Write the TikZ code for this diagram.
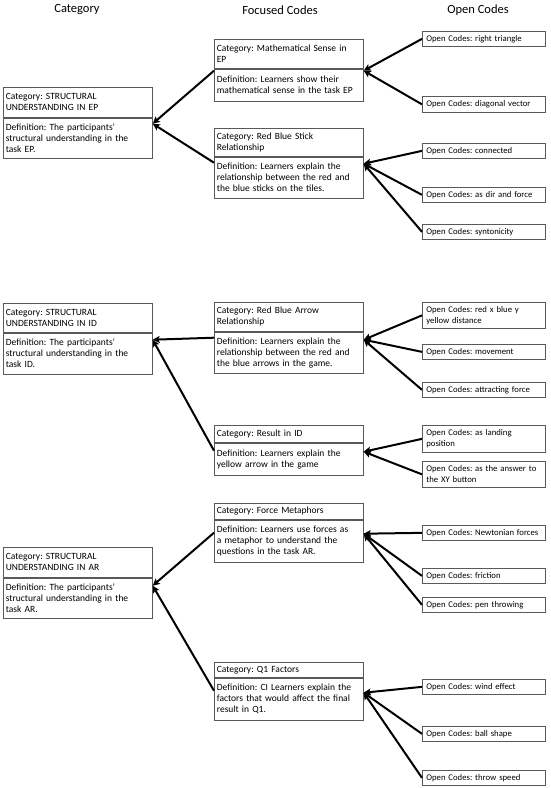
\documentclass[tikz,border=0pt]{standalone}
\usepackage{fontspec}
\setmainfont{Carlito}
\usetikzlibrary{arrows.meta,calc}
\frenchspacing

\tikzset{every picture/.style={line width=0.75pt}}
\tikzset{
  catbox/.style={draw=black!65, line width=0.7pt, anchor=north west, align=left,
    inner xsep=2.5pt, inner ysep=1pt, text width=144pt, font=\fontsize{9.5}{11}\selectfont},
  codebox/.style={draw=black!65, line width=0.7pt, anchor=north west, align=left,
    inner xsep=4pt, inner ysep=1pt, text width=115pt, font=\fontsize{8.7}{11}\selectfont},
  colhead/.style={font=\fontsize{12.5}{14}\selectfont},
  link/.style={line width=2pt, -{Stealth[length=7pt,width=7pt,inset=1.5pt]}}
}

\begin{document}
\begin{tikzpicture}[x=1pt,y=1pt,yscale=-1,xscale=1]
\useasboundingbox (0,0) rectangle (550,788);

% Column heads
\node[colhead] (headCat) at (77,10) {Category};
\node[colhead] (headFocus) at (280,10) {Focused Codes};
\node[colhead] (headOpen) at (478,10) {Open Codes};

%Category boxes
\node[catbox, minimum height=30] (epHead) at (3,87) {Category: STRUCTURAL\\UNDERSTANDING IN EP};
\node[catbox, minimum height=40] (epDef) at (epHead.south west) {Definition: The participants'\\structural understanding in the\\task EP.};
\node[catbox, minimum height=29] (idHead) at (3,303) {Category: STRUCTURAL\\UNDERSTANDING IN ID};
\node[catbox, minimum height=41] (idDef) at (idHead.south west) {Definition: The participants'\\structural understanding in the\\task ID.};
\node[catbox, minimum height=30] (arHead) at (3,547) {Category: STRUCTURAL\\UNDERSTANDING IN AR};
\node[catbox, minimum height=40] (arDef) at (arHead.south west) {Definition: The participants'\\structural understanding in the\\task AR.};

%Focused code boxes
\node[catbox, minimum height=29] (mathHead) at (214,39) {Category: Mathematical Sense in\\EP};
\node[catbox, minimum height=32] (mathDef) at (mathHead.south west) {Definition: Learners show their\\mathematical sense in the task EP};
\node[catbox, minimum height=28] (stickHead) at (214,128) {Category: Red Blue Stick\\Relationship};
\node[catbox, minimum height=41] (stickDef) at (stickHead.south west) {Definition: Learners explain the\\relationship between the red and\\the blue sticks on the tiles.};
\node[catbox, minimum height=29] (arrowHead) at (214,302) {Category: Red Blue Arrow\\Relationship};
\node[catbox, minimum height=41] (arrowDef) at (arrowHead.south west) {Definition: Learners explain the\\relationship between the red and\\the blue arrows in the game.};
\node[catbox, minimum height=17] (resultHead) at (214,425) {Category: Result in ID};
\node[catbox, minimum height=32] (resultDef) at (resultHead.south west) {Definition: Learners explain the\\yellow arrow in the game};
\node[catbox, minimum height=16] (forceHead) at (214,503) {Category: Force Metaphors};
\node[catbox, minimum height=42] (forceDef) at (forceHead.south west) {Definition: Learners use forces as\\a metaphor to understand the\\questions in the task AR.};
\node[catbox, minimum height=15] (qoneHead) at (214,662) {Category: Q1 Factors};
\node[catbox, minimum height=42] (qoneDef) at (qoneHead.south west) {Definition: CI Learners explain the\\factors that would affect the final\\result in Q1.};

%Open code boxes
\node[codebox, minimum height=15] (rightTri) at (422,31) {Open Codes: right triangle};
\node[codebox, minimum height=16] (diagVec) at (422,96) {Open Codes: diagonal vector};
\node[codebox, minimum height=15] (connected) at (422,143) {Open Codes: connected};
\node[codebox, minimum height=15] (dirForce) at (422,187) {Open Codes: as dir and force};
\node[codebox, minimum height=15] (synton) at (422,224) {Open Codes: syntonicity};
\node[codebox, minimum height=26] (redBlue) at (422,302) {Open Codes: red x blue y\\yellow distance};
\node[codebox, minimum height=15] (movement) at (422,344) {Open Codes: movement};
\node[codebox, minimum height=15] (attract) at (422,382) {Open Codes: attracting force};
\node[codebox, minimum height=27] (landing) at (422,425) {Open Codes: as landing\\position};
\node[codebox, minimum height=26] (xyButton) at (422,461) {Open Codes: as the answer to\\the XY button};
\node[codebox, minimum height=15] (newton) at (422,525) {Open Codes: Newtonian forces};
\node[codebox, minimum height=15] (friction) at (422,568) {Open Codes: friction};
\node[codebox, minimum height=15] (penThrow) at (422,597) {Open Codes: pen throwing};
\node[codebox, minimum height=15] (wind) at (422,679) {Open Codes: wind effect};
\node[codebox, minimum height=15] (ballShape) at (422,726) {Open Codes: ball shape};
\node[codebox, minimum height=15] (throwSpeed) at (422,770) {Open Codes: throw speed};

%Hub points
\coordinate (epIn) at ($(epDef.north east)+(0,6)$);
\coordinate (idIn) at ($(idDef.north east)+(0,7)$);
\coordinate (arIn) at ($(arDef.north east)+(0,8)$);
\coordinate (mathL) at ($(mathDef.north west)+(0,2)$);
\coordinate (mathR) at ($(mathDef.north east)+(0,2)$);
\coordinate (stickL) at ($(stickDef.north west)+(0,6)$);
\coordinate (stickR) at ($(stickDef.north east)+(0,7)$);
\coordinate (arrowL) at ($(arrowDef.north west)+(0,6)$);
\coordinate (arrowR) at ($(arrowDef.north east)+(0,8)$);
\coordinate (resultL) at ($(resultDef.north west)+(0,8)$);
\coordinate (resultR) at ($(resultDef.north east)+(0,9)$);
\coordinate (forceL) at ($(forceDef.north west)+(0,13)$);
\coordinate (forceR) at ($(forceDef.north east)+(0,14)$);
\coordinate (qoneL) at ($(qoneDef.north west)+(0,13)$);
\coordinate (qoneR) at ($(qoneDef.north east)+(0,15)$);

%Focused to category
\draw[link] (mathL) -- (epIn);
\draw[link] (stickL) -- (epIn);
\draw[link] (arrowL) -- (idIn);
\draw[link] (resultL) -- (idIn);
\draw[link] (forceL) -- (arIn);
\draw[link] (qoneL) -- (arIn);

%Open to focused
\draw[link] (rightTri.west) -- (mathR);
\draw[link] (diagVec.west) -- (mathR);
\draw[link] (connected.west) -- (stickR);
\draw[link] (dirForce.west) -- (stickR);
\draw[link] (synton.west) -- (stickR);
\draw[link] (redBlue.west) -- (arrowR);
\draw[link] (movement.west) -- (arrowR);
\draw[link] (attract.west) -- (arrowR);
\draw[link] (landing.west) -- (resultR);
\draw[link] (xyButton.west) -- (resultR);
\draw[link] (newton.west) -- (forceR);
\draw[link] (friction.west) -- (forceR);
\draw[link] (penThrow.west) -- (forceR);
\draw[link] (wind.west) -- (qoneR);
\draw[link] (ballShape.west) -- (qoneR);
\draw[link] (throwSpeed.west) -- (qoneR);

\end{tikzpicture}
\end{document}
